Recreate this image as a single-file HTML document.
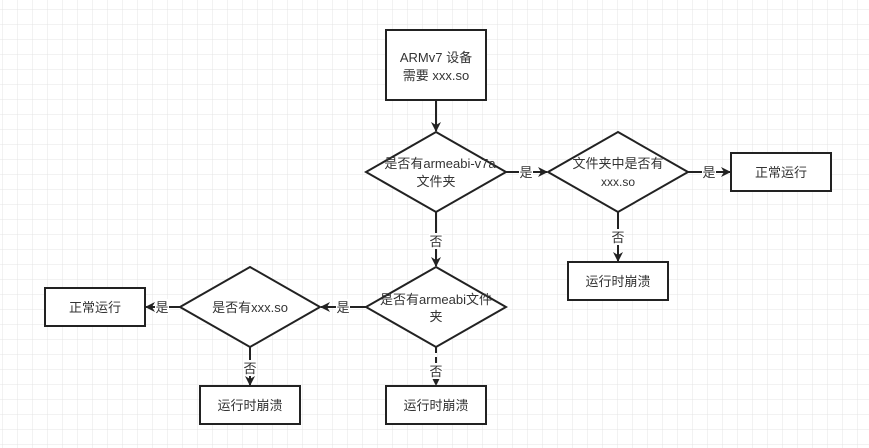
<!DOCTYPE html>
<html><head><meta charset="utf-8"><style>
html,body{margin:0;padding:0;background:#fff;}
svg{display:block;}
text{font-family:"Liberation Sans","Noto Sans CJK SC",sans-serif;font-size:13px;fill:#333;}
</style></head><body>
<svg width="869" height="448" viewBox="0 0 869 448" xmlns="http://www.w3.org/2000/svg">
<defs>
<pattern id="g" x="2" y="9" width="15" height="15" patternUnits="userSpaceOnUse">
<path d="M0 0H15M0 0V15" stroke="#e4e4e4" stroke-width="1" fill="none"/>
</pattern>
<marker id="a" markerWidth="10" markerHeight="10" refX="9" refY="5" orient="auto" markerUnits="userSpaceOnUse">
<path d="M0 0L10 5L0 10L3 5Z" fill="#222"/>
</marker>
</defs>
<rect width="869" height="448" fill="url(#g)"/>
<g stroke="#222" stroke-width="2" fill="#fff">
<rect x="386" y="30" width="100" height="70"/>
<polygon points="436,132 506,172 436,212 366,172"/>
<polygon points="618,132 688,172 618,212 548,172"/>
<rect x="731" y="153" width="100" height="38"/>
<rect x="568" y="262" width="100" height="38"/>
<polygon points="436,267 506,307 436,347 366,307"/>
<polygon points="250,267 320,307 250,347 180,307"/>
<rect x="45" y="288" width="100" height="38"/>
<rect x="200" y="386" width="100" height="38"/>
<rect x="386" y="386" width="100" height="38"/>
</g>
<g stroke="#222" stroke-width="2" fill="none" marker-end="url(#a)">
<line x1="436" y1="100" x2="436" y2="131"/>
<line x1="506" y1="172" x2="547" y2="172"/>
<line x1="688" y1="172" x2="730" y2="172"/>
<line x1="618" y1="212" x2="618" y2="261"/>
<line x1="436" y1="212" x2="436" y2="266"/>
<line x1="366" y1="307" x2="321" y2="307"/>
<line x1="180" y1="307" x2="146" y2="307"/>
<line x1="250" y1="347" x2="250" y2="385"/>
<line x1="436" y1="347" x2="436" y2="385" stroke-dasharray="6 4"/>
</g>
<g text-anchor="middle">
<text x="436" y="62">ARMv7 设备</text>
<text x="436" y="80">需要 xxx.so</text>
<text x="440" y="168">是否有armeabi-v7a</text>
<text x="436" y="186">文件夹</text>
<text x="618" y="168">文件夹中是否有</text>
<text x="618" y="186" style="font-size:12px">xxx.so</text>
<text x="781" y="177">正常运行</text>
<text x="618" y="286">运行时崩溃</text>
<text x="436" y="304">是否有armeabi文件</text>
<text x="436" y="321">夹</text>
<text x="250" y="312">是否有xxx.so</text>
<text x="95" y="312">正常运行</text>
<text x="250" y="410">运行时崩溃</text>
<text x="436" y="410">运行时崩溃</text>
</g>
<g text-anchor="middle" style="font-size:12px">
<rect x="519" y="164" width="14" height="16" fill="#fff"/><text x="526" y="177">是</text>
<rect x="702" y="164" width="14" height="16" fill="#fff"/><text x="709" y="177">是</text>
<rect x="611" y="229" width="14" height="16" fill="#fff"/><text x="618" y="242">否</text>
<rect x="429" y="233" width="14" height="16" fill="#fff"/><text x="436" y="246">否</text>
<rect x="336" y="299" width="14" height="16" fill="#fff"/><text x="343" y="312">是</text>
<rect x="155" y="299" width="14" height="16" fill="#fff"/><text x="162" y="312">是</text>
<rect x="243" y="360" width="14" height="16" fill="#fff"/><text x="250" y="373">否</text>
<rect x="429" y="363" width="14" height="16" fill="#fff"/><text x="436" y="376">否</text>
</g>
</svg>
</body></html>
